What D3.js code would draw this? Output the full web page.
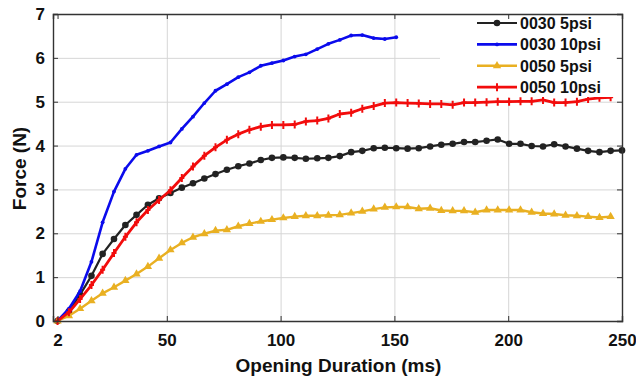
<!DOCTYPE html>
<html>
<head>
	<meta charset="utf-8">
	<title>Force vs Opening Duration</title>
	<script src="https://cdn.jsdelivr.net/npm/d3@7/dist/d3.min.js"></script>
	<style>
		body { margin: 0; background: #fff; }
		text { font-family: "Liberation Sans", Arial, sans-serif; font-weight: bold; fill: #111; }
	</style>
</head>
<body>
<div id="chart"></div>
<script>
// opening duration (ms) of each sample
var time = [2, 7.0, 11.9, 16.9, 21.8, 26.8, 31.8, 36.7, 41.7, 46.6,
	51.6, 56.6, 61.5, 66.5, 71.4, 76.4, 81.4, 86.3, 91.3, 96.2,
	101.2, 106.2, 111.1, 116.1, 121.0, 126.0, 131.0, 135.9, 140.9, 145.8,
	150.8, 155.8, 160.7, 165.7, 170.6, 175.6, 180.6, 185.5, 190.5, 195.4,
	200.4, 205.4, 210.3, 215.3, 220.2, 225.2, 230.2, 235.1, 240.1, 245.0, 250];

// force (N) per series
var f0030_5 = [0.00, 0.22, 0.60, 1.03, 1.53, 1.87, 2.19, 2.42, 2.65, 2.80,
	2.92, 3.04, 3.14, 3.25, 3.35, 3.45, 3.53, 3.59, 3.67, 3.72,
	3.73, 3.72, 3.70, 3.71, 3.72, 3.76, 3.85, 3.88, 3.94, 3.95,
	3.94, 3.93, 3.94, 3.98, 4.02, 4.04, 4.08, 4.08, 4.11, 4.14,
	4.04, 4.04, 3.99, 3.98, 4.03, 3.98, 3.93, 3.88, 3.85, 3.88, 3.89];
var f0030_10 = [0.00, 0.28, 0.68, 1.35, 2.25, 2.95, 3.47, 3.79, 3.88, 3.98,
	4.07, 4.38, 4.66, 4.97, 5.25, 5.40, 5.56, 5.67, 5.82, 5.88,
	5.94, 6.03, 6.08, 6.20, 6.32, 6.41, 6.51, 6.52, 6.45, 6.43, 6.47];
var f0050_5 = [0.00, 0.12, 0.28, 0.46, 0.63, 0.77, 0.92, 1.07, 1.24, 1.43,
	1.62, 1.78, 1.91, 1.99, 2.06, 2.08, 2.16, 2.22, 2.27, 2.31,
	2.35, 2.38, 2.40, 2.40, 2.41, 2.42, 2.46, 2.50, 2.55, 2.59,
	2.60, 2.60, 2.56, 2.57, 2.52, 2.51, 2.51, 2.48, 2.53, 2.53,
	2.53, 2.53, 2.48, 2.45, 2.44, 2.41, 2.40, 2.38, 2.36, 2.38];
var f0050_10 = [0.00, 0.20, 0.50, 0.82, 1.17, 1.55, 1.92, 2.25, 2.53, 2.76,
	2.98, 3.26, 3.52, 3.77, 3.96, 4.13, 4.26, 4.36, 4.43, 4.47,
	4.47, 4.48, 4.55, 4.57, 4.62, 4.72, 4.75, 4.84, 4.90, 4.97,
	4.98, 4.97, 4.96, 4.95, 4.95, 4.93, 4.98, 4.98, 4.99, 5.00,
	5.00, 5.01, 5.01, 5.04, 4.98, 4.98, 5.00, 5.06, 5.09, 5.10];

var seriesNames = ["0030 5psi", "0030 10psi", "0050 5psi", "0050 10psi"];
var seriesValues = [f0030_5, f0030_10, f0050_5, f0050_10];
var xTicks = [2, 50, 100, 150, 200, 250];
var yTicks = [0, 1, 2, 3, 4, 5, 6, 7];

//############### layout ##################
var width = 636,
	height = 380;
var margin = {top: 14, right: 14, bottom: 59, left: 53};
var plotW = width - margin.left - margin.right,
	plotH = height - margin.top - margin.bottom;

var colors = ["#222222", "#0b0bec", "#e9b022", "#f20c0c"];
var lineWidths = [2.2, 2.6, 2.4, 2.8];

var svg = d3.select("#chart")
	.append("svg")
	.attr("width", width)
	.attr("height", height);

var g = svg.append("g")
	.attr("transform", "translate(" + margin.left + "," + margin.top + ")");

var x = d3.scaleLinear().domain([0, 250]).range([0, plotW]);
var y = d3.scaleLinear().domain([0, 7]).range([plotH, 0]);

// grid lines
g.append("g")
	.attr("class", "grid")
	.attr("transform", "translate(0," + plotH + ")")
	.call(d3.axisBottom(x).tickValues([50, 100, 150, 200]).tickSize(-plotH).tickFormat(""));
g.append("g")
	.attr("class", "grid")
	.call(d3.axisLeft(y).tickValues([1, 2, 3, 4, 5, 6]).tickSize(-plotW).tickFormat(""));
g.selectAll(".grid line").attr("stroke", "#d6d6d6").attr("stroke-width", 1);
g.selectAll(".grid .domain").remove();

//############### series ##################
var line = d3.line()
	.x(function(d, i) { return x(time[i]); })
	.y(function(d) { return y(d); });

// marker shape for each series
function drawMarkers(sel, k) {
	var c = colors[k];
	if (k === 0) {
		sel.append("circle").attr("r", 3.3).attr("fill", c);
	} else if (k === 1) {
		sel.append("circle").attr("r", 1.9).attr("fill", c);
	} else if (k === 2) {
		sel.append("path").attr("d", d3.symbol(d3.symbolTriangle).size(30)).attr("fill", c);
	} else {
		sel.append("path").attr("d", "M0,-4V4M-2.5,0H2.5")
			.attr("stroke", c).attr("stroke-width", 2).attr("fill", "none");
	}
}

seriesValues.forEach(function(vals, k) {
	g.append("path")
		.datum(vals)
		.attr("fill", "none")
		.attr("stroke", colors[k])
		.attr("stroke-width", lineWidths[k])
		.attr("stroke-linejoin", "round")
		.attr("d", line);

	g.append("g").selectAll("g")
		.data(vals)
		.enter().append("g")
		.attr("transform", function(d, i) { return "translate(" + x(time[i]) + "," + y(d) + ")"; })
		.each(function() { drawMarkers(d3.select(this), k); });
});

//############### legend ##################
var legend = g.append("g").attr("transform", "translate(" + (440 - margin.left) + "," + (15 - margin.top) + ")");
legend.append("rect")
	.attr("width", 176).attr("height", 82)
	.attr("fill", "#fff");
seriesNames.forEach(function(name, k) {
	var row = legend.append("g").attr("transform", "translate(0," + (8 + k * 21.4) + ")");
	row.append("line")
		.attr("x1", 37).attr("x2", 77)
		.attr("stroke", colors[k]).attr("stroke-width", lineWidths[k]);
	drawMarkers(row.append("g").attr("transform", "translate(57,0)"), k);
	row.append("text")
		.attr("x", 80).attr("dy", "0.36em")
		.style("font-size", "16px")
		.text(name);
});

//############### axes ##################
var xAxis = g.append("g")
	.attr("transform", "translate(0," + plotH + ")")
	.call(d3.axisBottom(x).tickValues(xTicks).tickSize(-5).tickPadding(13).tickFormat(d3.format("d")));
var yAxis = g.append("g")
	.call(d3.axisLeft(y).tickValues(yTicks).tickSize(-5).tickPadding(8).tickFormat(d3.format("d")));
g.append("g")
	.call(d3.axisTop(x).tickValues(xTicks).tickSize(-5).tickFormat(""));
g.append("g")
	.attr("transform", "translate(" + plotW + ",0)")
	.call(d3.axisRight(y).tickValues(yTicks).tickSize(-5).tickFormat(""));

g.selectAll(".domain").attr("stroke", "#333").attr("stroke-width", 1.4);
g.selectAll(".tick line").filter(function() { return !this.closest(".grid"); })
	.attr("stroke", "#333");
g.selectAll(".tick text")
	.style("font-size", "17px")
	.style("font-family", "'Liberation Sans', Arial, sans-serif")
	.style("font-weight", "bold")
	.attr("fill", "#111");

// axis titles
svg.append("text")
	.attr("x", margin.left + plotW / 2 + 1)
	.attr("y", 372)
	.attr("text-anchor", "middle")
	.style("font-size", "19px")
	.text("Opening Duration (ms)");
svg.append("text")
	.attr("transform", "translate(26," + (margin.top + plotH / 2 + 1) + ") rotate(-90)")
	.attr("text-anchor", "middle")
	.style("font-size", "19px")
	.text("Force (N)");
</script>
</body>
</html>
